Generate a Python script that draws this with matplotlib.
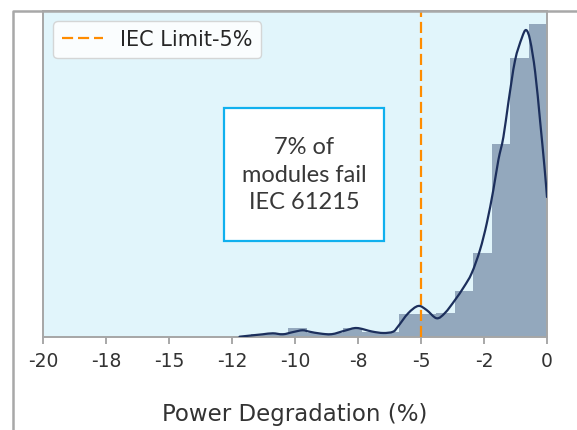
import matplotlib
matplotlib.use("Agg")
import matplotlib.pyplot as plt
from matplotlib.lines import Line2D
from matplotlib.patches import Rectangle, PathPatch
from matplotlib.path import Path

# ---- data ----
bin_edges = [-12.48, -11.74, -11.01, -10.28, -9.54, -8.81, -8.08, -7.34, -6.61,
             -5.88, -5.14, -4.41, -3.67, -2.94, -2.20, -1.47, -0.73, 0.0]
bin_density = [0.0013, 0.0040, 0.0049, 0.0119, 0.0053, 0.0053, 0.0119, 0.0066,
               0.0066, 0.0305, 0.0305, 0.0318, 0.0613, 0.1117, 0.2556, 0.3691, 0.4142]

kde_x = [-12.20, -11.75, -11.28, -10.88, -10.48, -10.07, -9.70, -9.42, -9.00, -8.55,
         -8.00, -7.55, -6.95, -6.50, -6.11, -5.92, -5.51, -5.11, -4.78, -4.38,
         -4.05, -3.65, -3.30, -2.99, -2.66, -2.39, -2.13, -1.93, -1.73, -1.53,
         -1.27, -1.00, -0.83, -0.67, -0.47, -0.27, -0.10, 0.0]
kde_y = [0.0004, 0.0020, 0.0036, 0.0049, 0.0036, 0.0066, 0.0089, 0.0070, 0.0046, 0.0037,
         0.0086, 0.0119, 0.0073, 0.0053, 0.0070, 0.0136, 0.0314, 0.0411, 0.0358, 0.0248,
         0.0318, 0.0490, 0.0662, 0.0844, 0.1152, 0.1506, 0.1947, 0.2344, 0.2649, 0.3113,
         0.3660, 0.3960, 0.4066, 0.3930, 0.3510, 0.2848, 0.2252, 0.1854]

iec_limit = -5
x_ticks = [-20, -17.5, -15, -12.5, -10, -7.5, -5, -2.5, 0]
x_tick_labels = ["-20", "-18", "-15", "-12", "-10", "-8", "-5", "-2", "0"]
annotation = "7% of\nmodules fail\nIEC 61215"
legend_label = "IEC Limit-5%"
x_label = "Power Degradation (%)"

W, H = 577, 430
fig = plt.figure(figsize=(W / 100, H / 100), dpi=100)

# outer screenshot frame (left and top edges)
fig.add_artist(Line2D([13 / W, 13 / W, 1.0], [0.0, 1 - 10.5 / H, 1 - 10.5 / H],
                      transform=fig.transFigure, color="#a8a8a8", lw=1.8))

ax = fig.add_axes([43 / W, (H - 337) / H, 504 / W, 326 / H])
ax.set_facecolor("#e1f5fb")

widths = [bin_edges[i + 1] - bin_edges[i] for i in range(len(bin_density))]
ax.bar(bin_edges[:-1], bin_density, width=widths, align="edge",
       color="#93a8bd", edgecolor="none", linewidth=0, zorder=2)


def smooth_path(xs, ys):
    """Catmull-Rom curve through the given points, drawn as cubic Beziers."""
    pts = list(zip(xs, ys))
    n = len(pts)
    verts = [pts[0]]
    codes = [Path.MOVETO]
    for i in range(n - 1):
        p0 = pts[i - 1] if i > 0 else pts[i]
        p1 = pts[i]
        p2 = pts[i + 1]
        p3 = pts[i + 2] if i + 2 < n else pts[i + 1]
        c1 = (p1[0] + (p2[0] - p0[0]) / 6, p1[1] + (p2[1] - p0[1]) / 6)
        c2 = (p2[0] - (p3[0] - p1[0]) / 6, p2[1] - (p3[1] - p1[1]) / 6)
        verts += [c1, c2, p2]
        codes += [Path.CURVE4] * 3
    return Path(verts, codes)


ax.add_patch(PathPatch(smooth_path(kde_x, kde_y), facecolor="none",
                       edgecolor="#1c2f5c", lw=1.6, capstyle="round",
                       joinstyle="round", zorder=3))
ax.axvline(iec_limit, color="#ff8c00", lw=1.6, dashes=(5, 2.2), zorder=4,
           label=legend_label)

ax.set_xlim(-20, 0)
ax.set_ylim(0, 0.4318)
ax.set_yticks([])
ax.set_xticks(x_ticks)
ax.set_xticklabels(x_tick_labels)
ax.tick_params(axis="x", length=5, width=1.2, color="#999999", labelsize=13.5,
               labelcolor="#333333", pad=6)
for s in ax.spines.values():
    s.set_color("#a6a6a6")
    s.set_linewidth(1.4)
ax.set_xlabel(x_label, fontsize=16.5, color="#333333", labelpad=23)

leg = ax.legend(loc="upper left", fontsize=15, frameon=True, fancybox=True,
                framealpha=0.85, facecolor="white", edgecolor="#d0d0d0",
                handlelength=2.0)
for t in leg.get_texts():
    t.set_color("#262626")

# annotation box
fig.add_artist(Rectangle((224.3 / W, (H - 240.7) / H), 160 / W, 133 / H,
                         transform=fig.transFigure, facecolor="white",
                         edgecolor="#10b0ee", lw=1.6, zorder=5))
fig.text(304.3 / W, 1 - 175 / H, annotation, ha="center", va="center",
         fontsize=17, family="Lato", fontweight="normal", color="#383838",
         linespacing=1.4, zorder=6)

fig.savefig("out.png", dpi=100)
